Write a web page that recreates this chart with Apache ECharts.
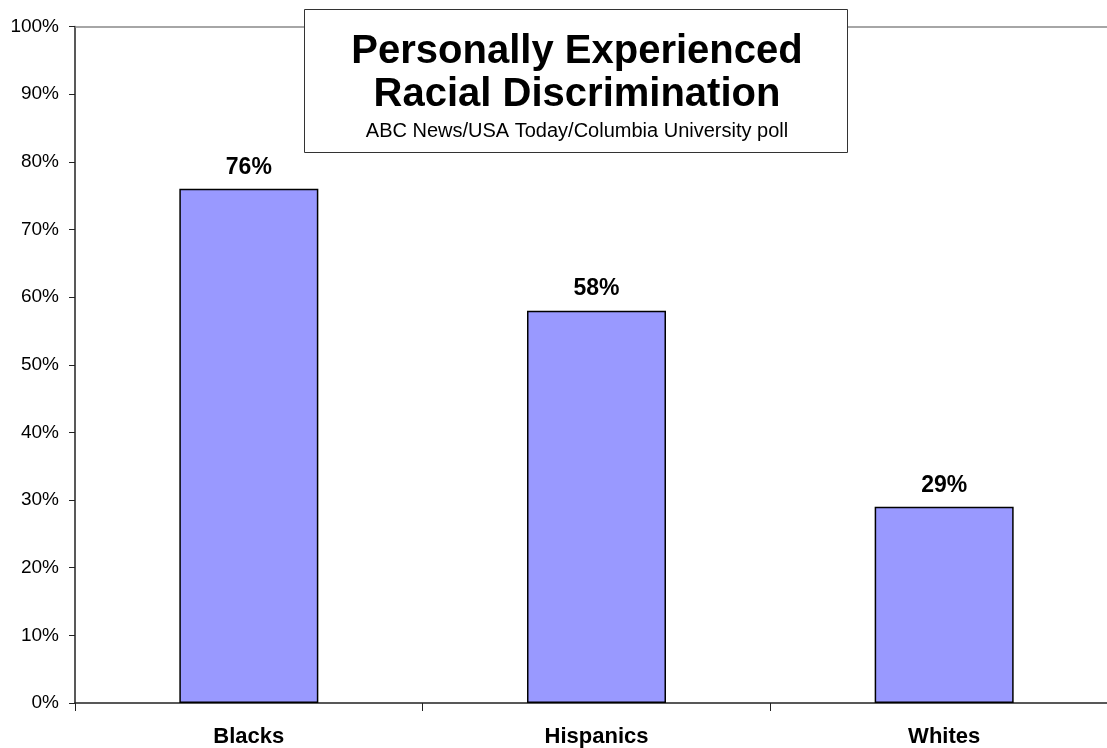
<!DOCTYPE html>
<html>
<head>
<meta charset="utf-8">
<script src="https://cdn.jsdelivr.net/npm/echarts@6/dist/echarts.min.js"></script>
<style>
  html, body { margin: 0; padding: 0; background: #fff; overflow: hidden; }
  /* the plot area runs a little past the right edge of the window */
  #chart { width: 1118px; height: 748px; }
</style>
</head>
<body>
<div id="chart"></div>
<script>
// Poll results: share of each group who personally experienced racial discrimination
const categories = ['Blacks', 'Hispanics', 'Whites'];
const values = [76, 58, 29];
const yTicks = { min: 0, max: 100, interval: 10 };

const titleText = 'Personally Experienced\nRacial Discrimination';
const subtitleText = 'ABC News/USA Today/Columbia University poll';

const FONT = 'Liberation Sans, Arial, sans-serif';
const chart = echarts.init(document.getElementById('chart'));

chart.setOption({
  animation: false,
  backgroundColor: '#ffffff',
  textStyle: { fontFamily: FONT },
  grid: { left: 75, top: 26.5, right: 0, height: 677, containLabel: false },
  graphic: [{
    type: 'rect',
    left: 304, top: 9,
    z: 50,
    shape: { width: 543, height: 143 },
    style: { fill: '#ffffff', stroke: '#333333', lineWidth: 1 }
  }],
  title: {
    text: titleText,
    subtext: subtitleText,
    left: 572,
    top: 25,
    textAlign: 'center',
    itemGap: 4,
    z: 60,
    textStyle: {
      fontFamily: FONT, fontSize: 40, fontWeight: 'bold', color: '#000', lineHeight: 43
    },
    subtextStyle: {
      fontFamily: FONT, fontSize: 20, color: '#000', lineHeight: 22
    }
  },
  xAxis: {
    type: 'category',
    data: categories,
    axisLine: { lineStyle: { color: '#222', width: 1.5 } },
    axisTick: { show: true, length: 8, lineStyle: { color: '#222' } },
    axisLabel: {
      margin: 23, fontSize: 22, fontWeight: 'bold', color: '#000', fontFamily: FONT
    },
    splitLine: { show: false }
  },
  yAxis: {
    type: 'value',
    min: yTicks.min, max: yTicks.max, interval: yTicks.interval,
    axisLine: { show: true, lineStyle: { color: '#222', width: 1.5 } },
    axisTick: { show: true, length: 6, lineStyle: { color: '#222' } },
    axisLabel: {
      formatter: '{value}%', margin: 16, fontSize: 19, color: '#000', fontFamily: FONT
    },
    splitLine: { show: false }
  },
  series: [{
    type: 'bar',
    data: values,
    barWidth: 139,
    itemStyle: { color: '#9999FF', borderColor: '#000', borderWidth: 1.5 },
    label: {
      show: true, position: 'top', distance: 10,
      formatter: '{c}%', fontSize: 23, fontWeight: 'bold', color: '#000', fontFamily: FONT
    },
    markLine: {
      silent: true, symbol: 'none',
      label: { show: false },
      lineStyle: { color: '#888', type: 'solid', width: 1.5 },
      data: [{ yAxis: yTicks.max }]
    }
  }]
});
</script>
</body>
</html>
